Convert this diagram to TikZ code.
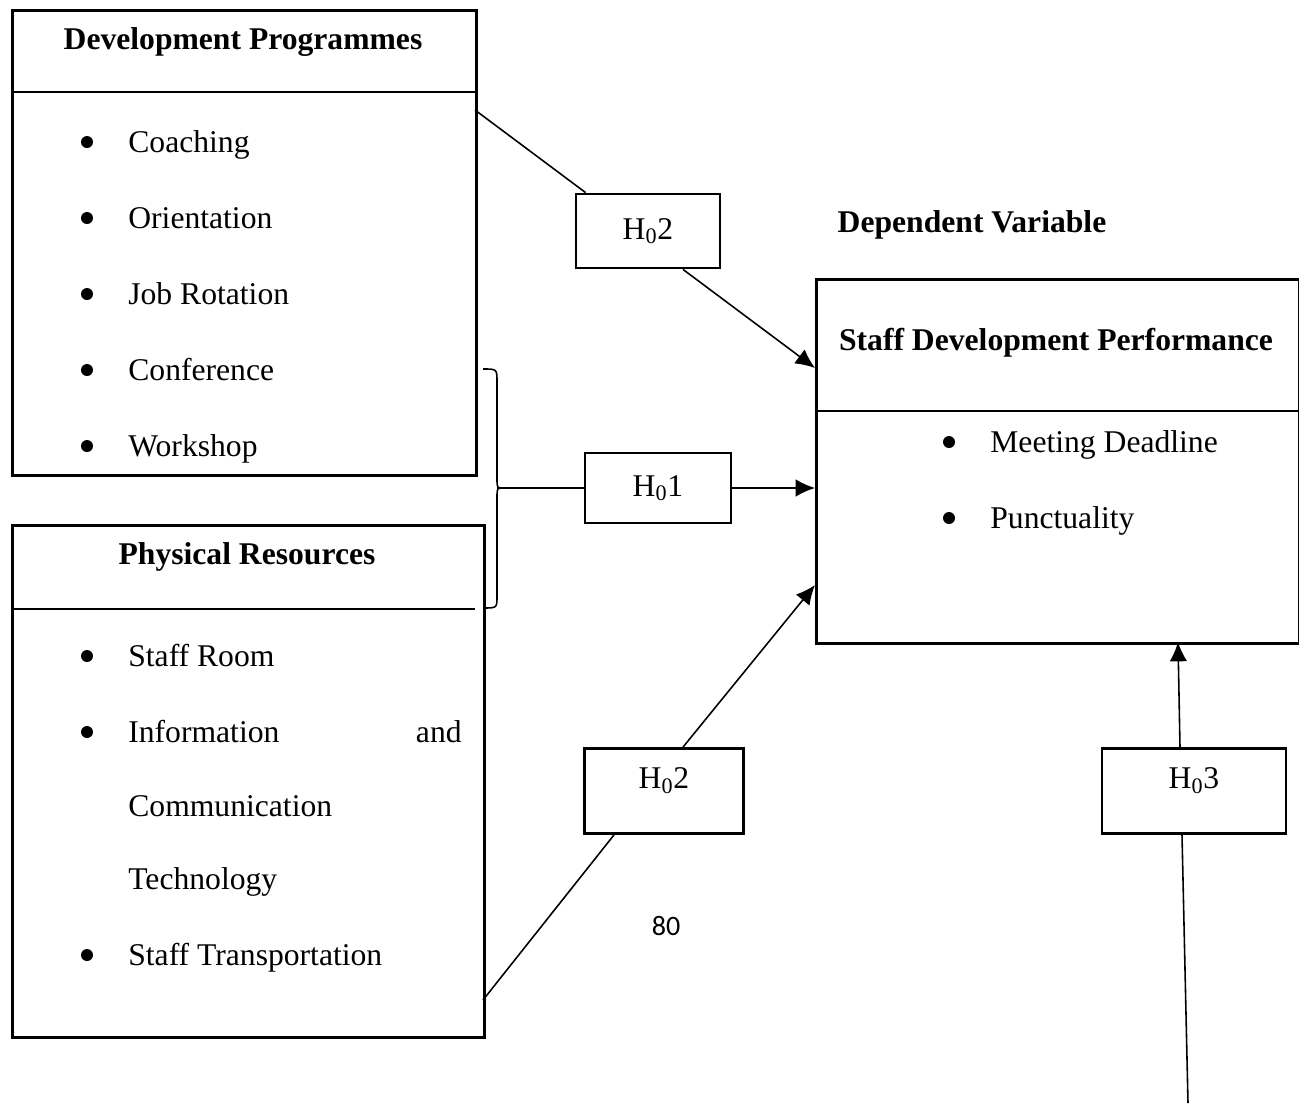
\documentclass[tikz,border=0pt]{standalone}
\usepackage{fontspec}
\setmainfont{Liberation Serif}
\newfontfamily\pagefont{Carlito}
\usetikzlibrary{arrows.meta, calc}

\begin{document}
\begin{tikzpicture}[
        x = 0.02cm, y = -0.02cm,
        font = \fontsize{18}{22}\selectfont,
        box/.style = {
            draw, rectangle,
            line width = 1.6pt,
            anchor = north west,
            inner sep = 0pt,
        },
        hyp/.style = {
            draw, rectangle,
            line width = 1.6pt,
            inner sep = 0pt,
        },
        head/.style = {anchor = base, inner sep = 0pt, font = \fontsize{18}{22}\selectfont\bfseries},
        item/.style = {anchor = base west, inner sep = 0pt},
        dot/.style = {circle, fill, inner sep = 0pt, minimum size = 0.24cm},
        rule/.style = {line width = 1.1pt},
        conn/.style = {line width = 0.9pt},
        arrow/.style = {conn, -{Latex[length = 11pt, width = 10pt]}},
        ]

        \useasboundingbox (0,0) rectangle (1299,1103);

        % Boxes
        \node[box, minimum width = 9.28cm, minimum height = 9.3cm] (dp) at (11,9) {};
        \node[box, minimum width = 9.44cm, minimum height = 10.24cm] (pr) at (11,524) {};
        \node[box, minimum width = 9.66cm, minimum height = 7.28cm] (sdp) at (815,278) {};

        \draw[rule] ($(dp.north west)+(0,83)$) -- ++(464,0);
        \draw[rule] ($(pr.north west)+(0,85)$) -- ++(464,0);
        \draw[rule] ($(sdp.north west)+(0,133)$) -- (sdp.east |- 0,411);

        % Titles
        \node[head] (dptitle) at (243,49) {Development Programmes};
        \node[head] (prtitle) at (247,564) {Physical Resources};
        \node[head] (sdptitle) at (1056,350) {Staff Development Performance};
        \node[head] (depvar) at (972,232) {Dependent Variable};

        % Lists
        \foreach \i/\y/\t in {1/152/Coaching, 2/228/Orientation, 3/304/Job Rotation, 4/380/Conference, 5/456/Workshop} {
            \node[dot] (dpb\i) at (87,\y-10) {};
            \node[item] (dpi\i) at (128,\y) {\t};
        }
        \foreach \i/\y/\t in {1/666/Staff Room, 2/742/Information, 5/965/Staff Transportation} {
            \node[dot] (prb\i) at (87,\y-10) {};
            \node[item] (pri\i) at (128,\y) {\t};
        }
        \node[anchor = base east, inner sep = 0pt] (priand) at (462,742) {and};
        \node[item] (pri3) at (128,816) {Communication};
        \node[item] (pri4) at (128,889) {Technology};
        \foreach \i/\y/\t in {1/452/Meeting Deadline, 2/528/Punctuality} {
            \node[dot] (sdpb\i) at (949,\y-10) {};
            \node[item] (sdpi\i) at (990,\y) {\t};
        }

        % Hypotheses
        \node[hyp, minimum width = 2.88cm, minimum height = 1.48cm] (h2a) at (648,231) {H\textsubscript{0}2};
        \node[hyp, minimum width = 2.92cm, minimum height = 1.4cm] (h1) at (658,488) {H\textsubscript{0}1};
        \node[hyp, minimum width = 3.18cm, minimum height = 1.7cm, text depth = 0.5cm] (h2b) at (664,791) {H\textsubscript{0}2};
        \node[hyp, minimum width = 3.68cm, minimum height = 1.7cm, text depth = 0.5cm] (h3) at (1194,791) {H\textsubscript{0}3};

        \node[font = \pagefont\fontsize{16}{19}\selectfont] (pagenum) at (666,926) {80};

        % Connectors
        \coordinate (dpout) at (475,110);
        \coordinate (prout) at (483,1000);
        \coordinate (bracetip) at (503,488);
        \coordinate (h3src) at (1188,1103);
        \coordinate (sdpin1) at (815,368);
        \coordinate (sdpin3) at (815,585);
        \coordinate (sdpin4) at (1178,642);

        \draw[conn] (483,369) .. controls (497,369) .. (497,382) -- (497,478)
            .. controls (497,488) .. (bracetip) .. controls (497,488) .. (497,498)
            -- (497,596) .. controls (497,608) .. (483,608);
        \draw[line width = 1.6pt] (497,488) -- (520,488);

        \draw[conn] (dpout) -- ([xshift = 0.22cm]h2a.north west);
        \draw[arrow] ([xshift = 0.7cm]h2a.south) -- (sdpin1);
        \draw[conn] (bracetip) -- (h1);
        \draw[arrow] (h1) -- (h1 -| sdp.west);
        \draw[conn] (prout) -- ([xshift = -1cm]h2b.south);
        \draw[arrow] ([xshift = 0.38cm]h2b.north) -- (sdpin3);
        \draw[conn] (h3src) -- ([xshift = -0.24cm]h3.south);
        \draw[arrow] ([xshift = -0.28cm]h3.north) -- (sdpin4);
    \end{tikzpicture}
\end{document}
